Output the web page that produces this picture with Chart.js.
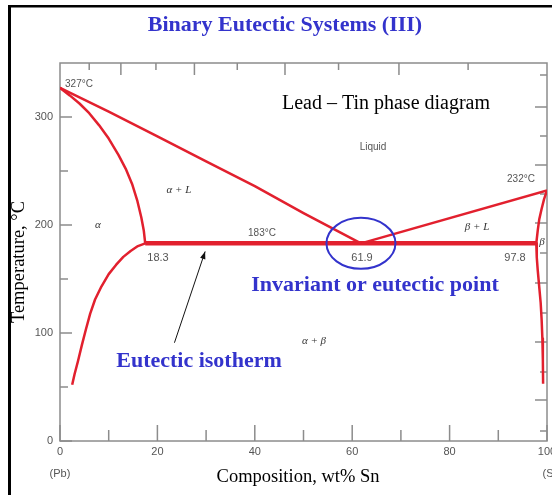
<!DOCTYPE html>
<html>
<head>
<meta charset="utf-8">
<script src="https://cdn.jsdelivr.net/npm/chart.js@4.4.1/dist/chart.umd.min.js"></script>
<style>
html,body{margin:0;padding:0;background:#fff;}
#wrap{width:552px;height:495px;}
</style>
</head>
<body>
<div id="wrap"><canvas id="fase" width="552" height="495"></canvas></div>
<script>
// curvas del diagrama Pb-Sn: [wt% Sn, temperatura °C]
const liquidoPb = [[0,327],[10,305],[20,282],[30,259],[40,236],[50,211],[61.8,183]];
const liquidoSn = [[61.8,183],[100,232]];
const solidusAlfa = [[0,327],[2,320],[4,312.5],[6,303.5],[8,292.5],[10,280],[12,265],[13.5,252],[14.8,238],[15.9,222],[16.7,207],[17.2,195],[17.5,183]];
const solvusAlfa = [[17.5,183],[16,180.5],[14.5,176],[13,170.5],[11.5,163],[10,154.5],[8.5,143],[7.2,131],[6.2,118],[5.3,103],[4.5,89],[3.7,74],[3,62],[2.5,52]];
const solidusBeta = [[100,232],[99.4,224],[98.9,215],[98.4,205],[98.1,195],[97.8,183]];
const solvusBeta = [[97.8,183],[97.9,170],[98.1,158],[98.4,143],[98.7,128],[98.9,112],[99.05,95],[99.15,75],[99.2,53]];
const isoterma = [[17.5,183],[97.8,183]];
const eutectico = [61.8,183];

// ejes
const xLabels = [0,20,40,60,80,100];
const xMenores = [10,30,50,70,90];
const yLabels = [0,100,200,300];
const yMenores = [50,150,250];
const topTicks = [6.0,12.5,19.7,27.6,36.4,46.2,57.2,69.6,83.8];     // at% Sn 10..90
const rightTicks = [9.3,38,63.9,91.7,118.5,146.3,174.1,201.9,228.7,255.6,282.4,309.3,338.9]; // °F 50..650

const toXY = arr => arr.map(p => ({x: p[0], y: p[1]}));
const ROJO = "#e2202e";
const AZUL = "#3333cc";

function curva(data, color, ancho) {
  return {
    data: toXY(data),
    showLine: true,
    borderColor: color,
    borderWidth: ancho,
    borderJoinStyle: "round",
    pointRadius: 0,
    tension: 0,
    fill: false
  };
}

const marco = {
  id: "marco",
  beforeDatasetsDraw(chart) {
    const {ctx, chartArea: a, scales: {x, y}} = chart;
    ctx.save();
    ctx.strokeStyle = "#8c8c8c";
    ctx.lineWidth = 1.5;
    ctx.strokeRect(a.left, a.top, a.right - a.left, a.bottom - a.top);
    ctx.beginPath();
    // abajo
    xLabels.forEach(v => { const px = x.getPixelForValue(v); ctx.moveTo(px, a.bottom); ctx.lineTo(px, a.bottom - 16); });
    xMenores.forEach(v => { const px = x.getPixelForValue(v); ctx.moveTo(px, a.bottom); ctx.lineTo(px, a.bottom - 11); });
    // izquierda
    yLabels.forEach(v => { const py = y.getPixelForValue(v); ctx.moveTo(a.left, py); ctx.lineTo(a.left + 12, py); });
    yMenores.forEach(v => { const py = y.getPixelForValue(v); ctx.moveTo(a.left, py); ctx.lineTo(a.left + 8, py); });
    // arriba (at%)
    topTicks.forEach((v, i) => { const px = x.getPixelForValue(v); ctx.moveTo(px, a.top); ctx.lineTo(px, a.top + (i % 2 ? 12 : 7)); });
    // derecha (°F)
    rightTicks.forEach((v, i) => { const py = y.getPixelForValue(v); ctx.moveTo(a.right, py); ctx.lineTo(a.right - (i % 2 ? 12 : 7), py); });
    ctx.stroke();

    ctx.fillStyle = "#555";
    ctx.font = "11px 'Liberation Sans'";
    ctx.textAlign = "center";
    ctx.textBaseline = "middle";
    xLabels.forEach(v => ctx.fillText(String(v), x.getPixelForValue(v), a.bottom + 11));
    ctx.textAlign = "right";
    yLabels.forEach(v => ctx.fillText(String(v), a.left - 7, y.getPixelForValue(v)));
    ctx.textAlign = "center";
    ctx.fillText("(Pb)", 60, 474);
    ctx.fillText("(Sn)", 553, 474);
    ctx.restore();
  },
  afterDatasetsDraw(chart) {
    const {ctx, scales: {x, y}} = chart;
    const P = (w, t) => [x.getPixelForValue(w), y.getPixelForValue(t)];
    ctx.save();
    ctx.textAlign = "center";
    ctx.textBaseline = "middle";

    // rótulos pequeños
    ctx.fillStyle = "#555";
    ctx.font = "10px 'Liberation Sans'";
    ctx.fillText("327°C", 79, 84);
    ctx.fillText("232°C", 521, 179);
    ctx.fillText("183°C", 262, 233);
    ctx.fillText("Liquid", 373, 147);
    ctx.font = "11px 'Liberation Sans'";
    ctx.fillText("18.3", 158, 258);
    ctx.fillText("61.9", 362, 258);
    ctx.fillText("97.8", 515, 258);

    ctx.fillStyle = "#333";
    ctx.font = "italic 11px 'Liberation Serif'";
    ctx.fillText("α + L", 179, 190);
    ctx.fillText("α", 98, 225);
    ctx.fillText("β + L", 477, 227);
    ctx.fillText("α + β", 314, 341);
    ctx.fillStyle = "#fff";
    ctx.fillRect(539, 235, 7, 14);
    ctx.fillStyle = "#333";
    ctx.fillText("β", 542, 242);

    // círculo en el punto eutéctico
    const [ex, ey] = P(eutectico[0], eutectico[1]);
    ctx.strokeStyle = AZUL;
    ctx.lineWidth = 2;
    ctx.beginPath();
    ctx.ellipse(ex, ey, 34.5, 25.5, 0, 0, Math.PI * 2);
    ctx.stroke();

    // flecha
    const [ax, ay] = P(23.5, 91);
    const [bx, by] = P(29.8, 175.5);
    ctx.strokeStyle = "#111";
    ctx.fillStyle = "#111";
    ctx.lineWidth = 1;
    ctx.beginPath();
    ctx.moveTo(ax, ay);
    ctx.lineTo(bx, by);
    ctx.stroke();
    const ang = Math.atan2(by - ay, bx - ax);
    ctx.beginPath();
    ctx.moveTo(bx, by);
    ctx.lineTo(bx - 8 * Math.cos(ang - 0.35), by - 8 * Math.sin(ang - 0.35));
    ctx.lineTo(bx - 8 * Math.cos(ang + 0.35), by - 8 * Math.sin(ang + 0.35));
    ctx.closePath();
    ctx.fill();

    // textos de la diapositiva
    ctx.fillStyle = AZUL;
    ctx.font = "bold 22px 'Liberation Serif'";
    ctx.fillText("Invariant or eutectic point", 375, 285);
    ctx.fillText("Eutectic isotherm", 199, 361);
    ctx.fillText("Binary Eutectic Systems (III)", 285, 25);

    ctx.fillStyle = "#000";
    ctx.font = "20px 'Liberation Serif'";
    ctx.fillText("Lead – Tin phase diagram", 386, 104);
    ctx.font = "18.5px 'Liberation Serif'";
    ctx.fillText("Composition, wt% Sn", 298, 477);
    ctx.save();
    ctx.translate(19, 262);
    ctx.rotate(-Math.PI / 2);
    ctx.fillText("Temperature, °C", 0, 0);
    ctx.restore();

    // borde de la diapositiva
    ctx.fillStyle = "#000";
    ctx.fillRect(8, 5, 3, 490);
    ctx.fillRect(8, 5, 544, 2.5);
    ctx.restore();
  }
};

new Chart(document.getElementById("fase").getContext("2d"), {
  type: "scatter",
  data: {
    datasets: [
      curva(liquidoPb, ROJO, 2.5),
      curva(liquidoSn, ROJO, 2.5),
      curva(solidusAlfa, ROJO, 2.5),
      curva(solvusAlfa, ROJO, 2.5),
      curva(solidusBeta, ROJO, 2.5),
      curva(solvusBeta, ROJO, 2.5),
      curva(isoterma, ROJO, 4.5),
      curva(isoterma, "#2b2bdc", 2.5)
    ]
  },
  options: {
    responsive: false,
    animation: false,
    layout: { padding: { left: 60, top: 63, right: 5, bottom: 54 } },
    plugins: { legend: { display: false }, tooltip: { enabled: false } },
    scales: {
      x: { type: "linear", min: 0, max: 100, display: false },
      y: { type: "linear", min: 0, max: 350, display: false }
    }
  },
  plugins: [marco]
});
</script>
</body>
</html>
